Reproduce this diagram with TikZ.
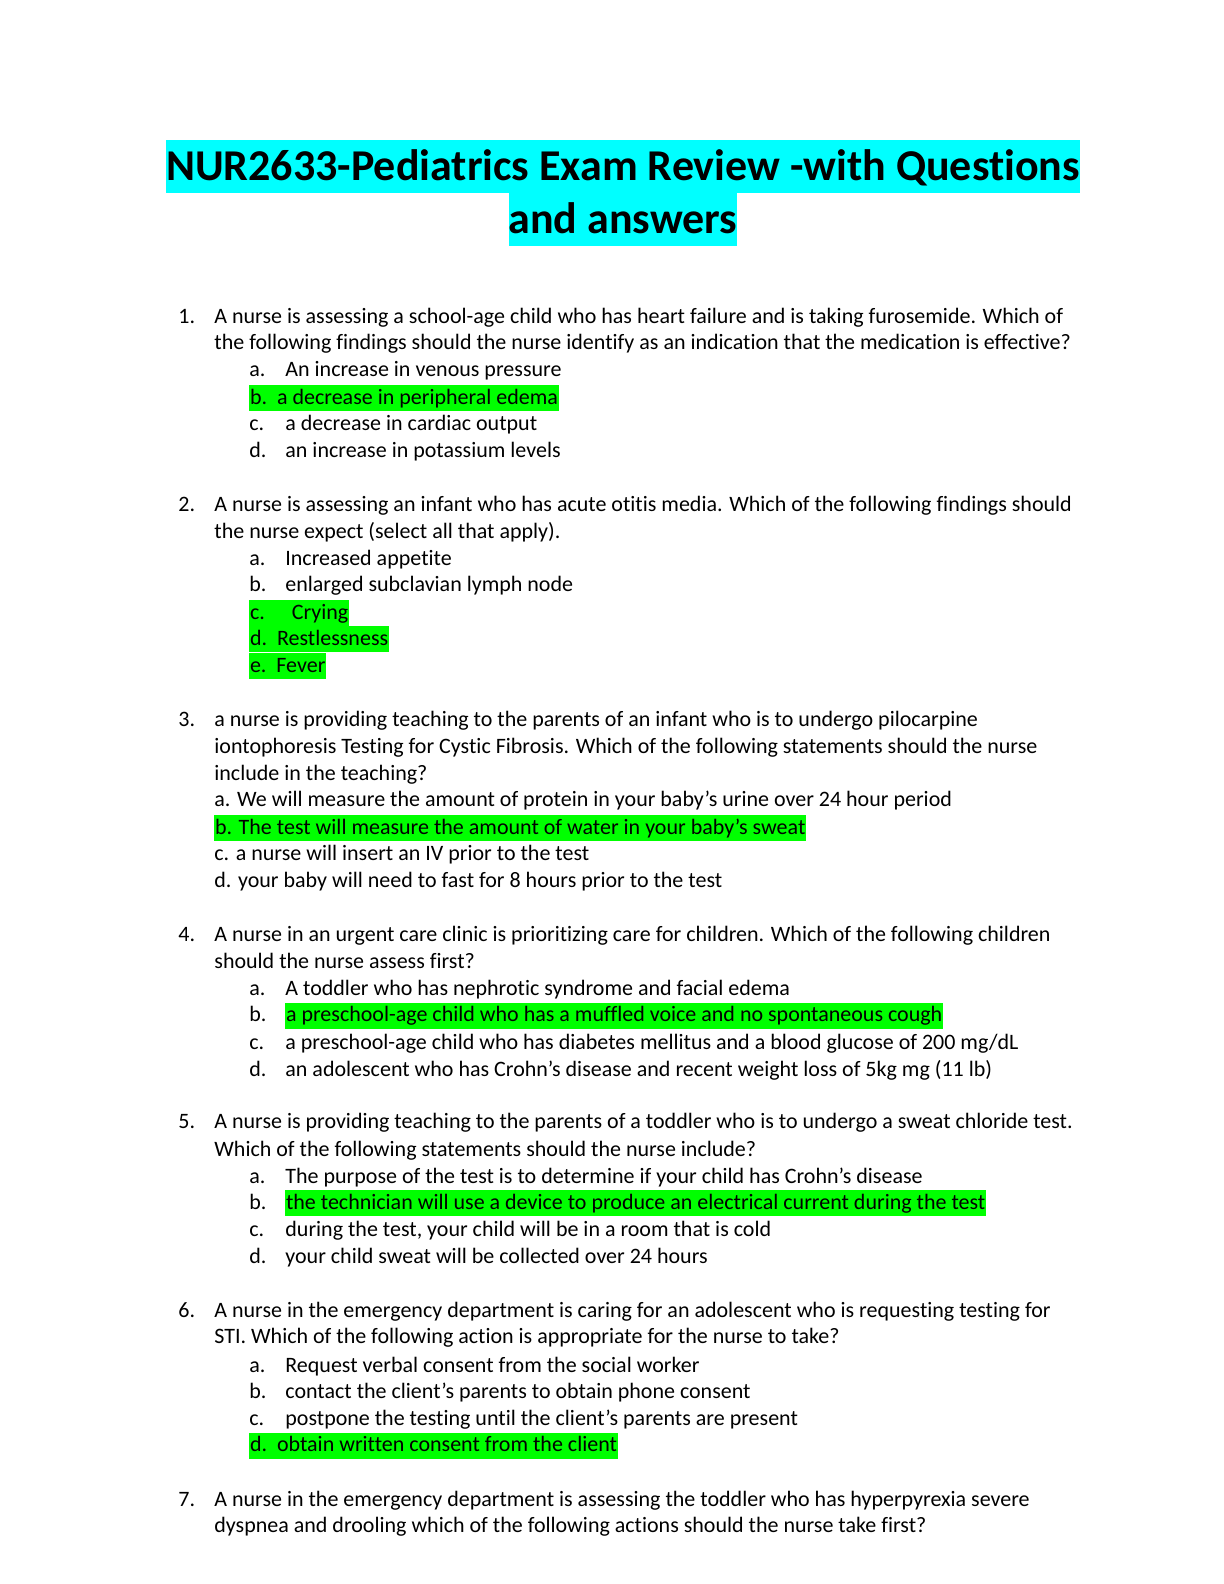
\documentclass[tikz,border=0pt]{standalone}
\usepackage{fontspec}
\setmainfont{Carlito}[Ligatures={NoCommon}]
\definecolor{hlg}{RGB}{0,255,0}
\definecolor{hlc}{RGB}{0,255,255}
\newcommand{\sq}{\symbol{39}}
\newcommand{\Lt}[3]{\node[txt] at (#1*0.5pt,-#2*0.5047pt-4.2pt) {#3};}
\newcommand{\Lh}[3]{\node[txt,hl] at (#1*0.5pt,-#2*0.5047pt-4.2pt) {#3};}
\begin{document}
\begin{tikzpicture}[x=1pt,y=1pt,
  txt/.style={anchor=base west,inner sep=0pt,font=\fontsize{11}{13}\selectfont},
  hl/.style={fill=hlg,inner xsep=0.3pt,text height=9.6pt,text depth=3.4pt},
  ttl/.style={anchor=base,inner sep=0pt,font=\fontsize{22}{26}\bfseries\selectfont,fill=hlc,text height=20pt,text depth=6.5pt}]
\useasboundingbox (0,0) rectangle (612,-792);
\node[ttl] (t1) at (311.5,-90) {NUR2633-Pediatrics Exam Review -with Questions};
\node[ttl] (t2) at (311.5,-116.5) {and answers};
% Q1
\Lt{178}{312}{1.}\Lt{214}{312}{A nurse is assessing a school-age child who has heart failure and is taking furosemide. Which of}
\Lt{214}{338}{the following findings should the nurse identify as an indication that the medication is effective?}
\Lt{249}{365}{a.}\Lt{285}{365}{An increase in venous pressure}
\Lh{249}{392}{b.\ \ a decrease in peripheral edema}
\Lt{249}{418}{c.}\Lt{285}{418}{a decrease in cardiac output}
\Lt{249}{445}{d.}\Lt{285}{445}{an increase in potassium levels}
% Q2
\Lt{178}{498}{2.}\Lt{214}{498}{A nurse is assessing an infant who has acute otitis media. Which of the following findings should}
\Lt{214}{525}{the nurse expect (select all that apply).}
\Lt{249}{552}{a.}\Lt{285}{552}{Increased appetite}
\Lt{249}{578}{b.}\Lt{285}{578}{enlarged subclavian lymph node}
\Lh{249}{605}{c.\hspace{13.5pt}Crying}
\Lh{249}{631}{d.\ \ Restlessness}
\Lh{249}{658}{e.\ \ Fever}
% Q3
\Lt{178}{711}{3.}\Lt{214}{711}{a nurse is providing teaching to the parents of an infant who is to undergo pilocarpine}
\Lt{214}{738}{iontophoresis Testing for Cystic Fibrosis. Which of the following statements should the nurse}
\Lt{214}{765}{include in the teaching?}
\Lt{214}{791}{a. We will measure the amount of protein in your baby\sq s urine over 24 hour period}
\Lh{214}{818}{b. The test will measure the amount of water in your baby’s sweat}
\Lt{214}{844}{c. a nurse will insert an IV prior to the test}
\Lt{214}{871}{d. your baby will need to fast for 8 hours prior to the test}
% Q4
\Lt{178}{924}{4.}\Lt{214}{924}{A nurse in an urgent care clinic is prioritizing care for children. Which of the following children}
\Lt{214}{951}{should the nurse assess first?}
\Lt{249}{978}{a.}\Lt{285}{978}{A toddler who has nephrotic syndrome and facial edema}
\Lt{249}{1004}{b.}\Lh{285}{1004}{a preschool-age child who has a muffled voice and no spontaneous cough}
\Lt{249}{1031}{c.}\Lt{285}{1031}{a preschool-age child who has diabetes mellitus and a blood glucose of 200 mg/dL}
\Lt{249}{1058}{d.}\Lt{285}{1058}{an adolescent who has Crohn\sq s disease and recent weight loss of 5kg mg (11 lb)}
% Q5
\Lt{178}{1110}{5.}\Lt{214}{1110}{A nurse is providing teaching to the parents of a toddler who is to undergo a sweat chloride test.}
\Lt{214}{1137}{Which of the following statements should the nurse include?}
\Lt{249}{1164}{a.}\Lt{285}{1164}{The purpose of the test is to determine if your child has Crohn\sq s disease}
\Lt{249}{1190}{b.}\Lh{285}{1190}{the technician will use a device to produce an electrical current during the test}
\Lt{249}{1217}{c.}\Lt{285}{1217}{during the test, your child will be in a room that is cold}
\Lt{249}{1243}{d.}\Lt{285}{1243}{your child sweat will be collected over 24 hours}
% Q6
\Lt{178}{1297}{6.}\Lt{214}{1297}{A nurse in the emergency department is caring for an adolescent who is requesting testing for}
\Lt{214}{1323}{STI. Which of the following action is appropriate for the nurse to take?}
\Lt{249}{1351}{a.}\Lt{285}{1351}{Request verbal consent from the social worker}
\Lt{249}{1377}{b.}\Lt{285}{1377}{contact the client\sq s parents to obtain phone consent}
\Lt{249}{1404}{c.}\Lt{285}{1404}{postpone the testing until the client\sq s parents are present}
\Lh{249}{1430}{d.\ \ obtain written consent from the client}
% Q7
\Lt{178}{1484}{7.}\Lt{214}{1484}{A nurse in the emergency department is assessing the toddler who has hyperpyrexia severe}
\Lt{214}{1510}{dyspnea and drooling which of the following actions should the nurse take first?}
\end{tikzpicture}
\end{document}
